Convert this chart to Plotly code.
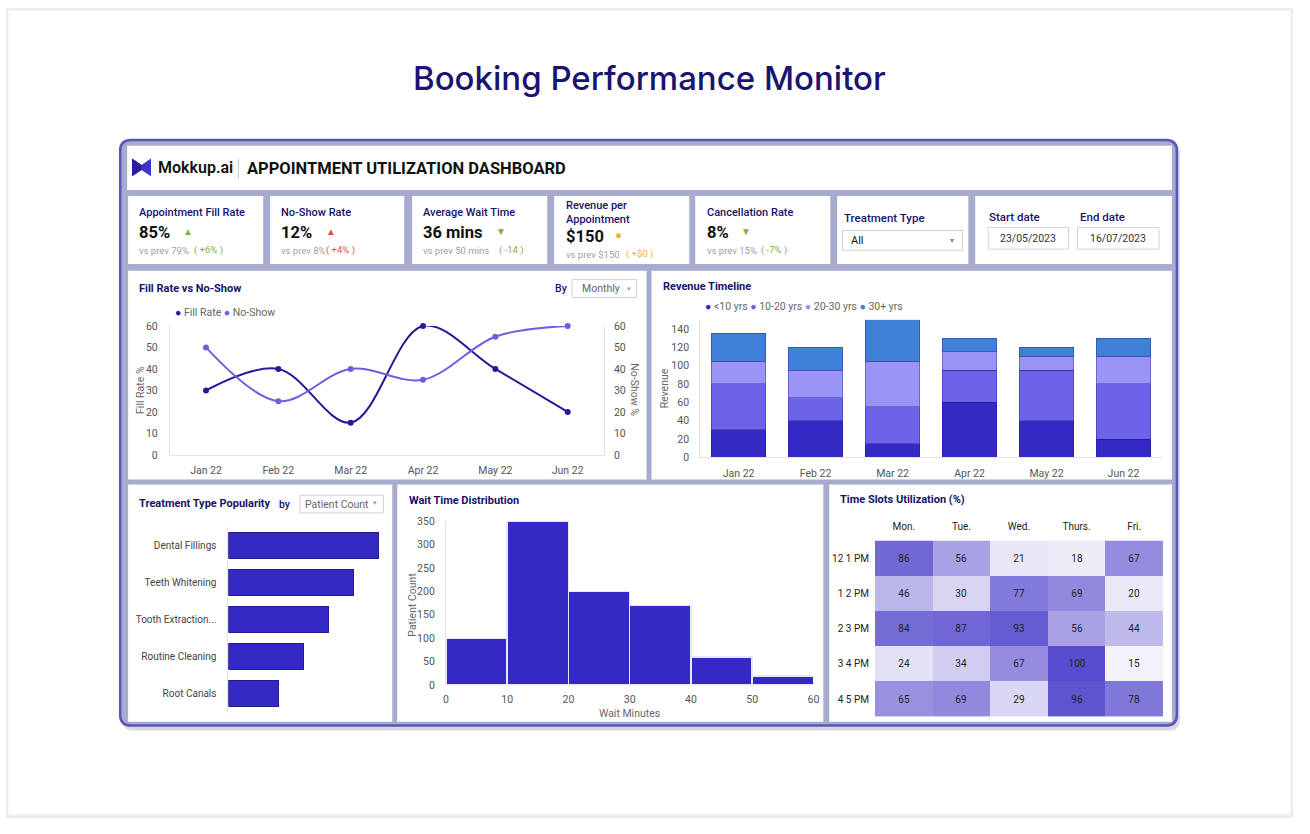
import plotly.graph_objects as go

W, H = 1310, 834
FONT = "Roboto"

# ---------------- data ----------------
months = ["Jan 22", "Feb 22", "Mar 22", "Apr 22", "May 22", "Jun 22"]
fill_rate = [30, 40, 15, 60, 40, 20]
no_show = [50, 25, 40, 35, 55, 60]

rev_groups = ["<10 yrs", "10-20 yrs", "20-30 yrs", "30+ yrs"]
rev_lt10 = [30, 40, 15, 60, 40, 20]
rev_10_20 = [50, 25, 40, 35, 55, 60]
rev_20_30 = [25, 30, 50, 20, 15, 30]
rev_30p = [30, 25, 45, 15, 10, 20]

treatments = ["Dental Fillings", "Teeth Whitening", "Tooth Extraction...", "Routine Cleaning", "Root Canals"]
treat_counts = [300, 250, 200, 150, 100]

wait_edges = [0, 10, 20, 30, 40, 50, 60]
wait_counts = [100, 350, 200, 170, 60, 20]

days = ["Mon.", "Tue.", "Wed.", "Thurs.", "Fri."]
slots = ["12 1 PM", "1 2 PM", "2 3 PM", "3 4 PM", "4 5 PM"]
util = [
    [86, 56, 21, 18, 67],
    [46, 30, 77, 69, 20],
    [84, 87, 93, 56, 44],
    [24, 34, 67, 100, 15],
    [65, 69, 29, 96, 78],
]

kpi_titles = ["Appointment Fill Rate", "No-Show Rate", "Average Wait Time", "Revenue per<br>Appointment", "Cancellation Rate"]
kpi_values = ["85%", "12%", "36 mins", "$150", "8%"]
kpi_prev = ["vs prev 79%", "vs prev 8%", "vs prev 50 mins", "vs prev $150", "vs prev 15%"]
kpi_delta = ["( +6% )", "( +4% )", "( -14 )", "( +$0 )", "( -7% )"]
kpi_status = ["up_good", "up_bad", "down_good", "flat", "down_good"]

treatment_filter = "All"
start_date = "23/05/2023"
end_date = "16/07/2023"

# ---------------- colours ----------------
NAVY = "#17136a"
C_FILL = "#241a96"
C_NOSHOW = "#6b5fe0"
REV_COLORS = ["#3429c4", "#6c63e9", "#9a94f6", "#3f80d9"]
BAR = "#3429c4"
GREEN = "#7cb342"
RED = "#e5533d"
ORANGE = "#f5b041"
GREY = "#a0a0a0"
FRAME_FILL = "#a7abcd"
FRAME_LINE = "#5a55bb"


def X(x):
    return x / W


def Y(y):
    return 1 - y / H


shapes = []
annotations = []


def rect(x0, y0, x1, y1, fill, line=None, lw=0):
    shapes.append(dict(type="rect", xref="paper", yref="paper", x0=X(x0), x1=X(x1), y0=Y(y1), y1=Y(y0),
                       fillcolor=fill, line=dict(color=line or fill, width=lw), layer="below"))


def rrect(x0, y0, x1, y1, r, fill, line=None, lw=0):
    p = (f"M{X(x0 + r)},{Y(y0)} L{X(x1 - r)},{Y(y0)} Q{X(x1)},{Y(y0)} {X(x1)},{Y(y0 + r)} "
         f"L{X(x1)},{Y(y1 - r)} Q{X(x1)},{Y(y1)} {X(x1 - r)},{Y(y1)} L{X(x0 + r)},{Y(y1)} "
         f"Q{X(x0)},{Y(y1)} {X(x0)},{Y(y1 - r)} L{X(x0)},{Y(y0 + r)} Q{X(x0)},{Y(y0)} {X(x0 + r)},{Y(y0)} Z")
    shapes.append(dict(type="path", xref="paper", yref="paper", path=p, fillcolor=fill,
                       line=dict(color=line or fill, width=lw), layer="below"))


def txt(x, y, s, size=11, color="#333", xa="left", ya="middle", family=FONT, angle=0, weight=None):
    f = dict(family=family, size=size, color=color)
    if weight:
        f["weight"] = weight
    annotations.append(dict(x=X(x), y=Y(y), xref="paper", yref="paper", text=s, showarrow=False,
                            xanchor=xa, yanchor=ya, font=f, textangle=angle, align="left"))


# ---------------- background page ----------------
rect(3, 2, 1299, 825, "#ececec")
rect(5, 4, 1297, 822, "#f5f5f5")
rect(6, 5, 1296, 820, "#ffffff")

txt(651, 73, "Booking Performance Monitor", size=33, color="#1a1470", xa="center", family="Inter", weight=500)

# dashboard frame
rrect(120, 139, 1185, 736, 11, "#d9d9e2")
rrect(118, 136, 1182, 731, 11, FRAME_FILL, FRAME_LINE, 2.5)

# panels
panels = [
    (125, 142, 1177, 187),
    (126, 193, 262, 262), (269, 193, 404, 262), (412, 193, 548, 262), (555, 193, 691, 262),
    (697, 193, 833, 262), (840, 193, 972, 262), (979, 193, 1177, 262),
    (126, 269, 648, 481), (653, 269, 1177, 481),
    (126, 486, 392, 727), (397, 486, 826, 727), (832, 486, 1177, 727),
]
for p in panels:
    rect(*p, "#ffffff")

# header
shapes.append(dict(type="path", xref="paper", yref="paper",
                   path=f"M{X(130)},{Y(155)} L{X(139.5)},{Y(161.5)} L{X(149)},{Y(155)} L{X(149)},{Y(173)} "
                        f"L{X(139.5)},{Y(166.5)} L{X(130)},{Y(173)} Z",
                   fillcolor="#3b30d4", line=dict(width=0), layer="below"))
shapes.append(dict(type="path", xref="paper", yref="paper",
                   path=f"M{X(130)},{Y(155)} L{X(139.5)},{Y(161.5)} L{X(139.5)},{Y(166.5)} L{X(130)},{Y(173)} Z",
                   fillcolor="#2a1f9c", line=dict(width=0), layer="below"))
txt(154, 164.5, "Mokkup.ai", size=16, color="#111111", weight=600)
rect(236.5, 155, 237.5, 175, "#c4c4c4")
txt(244, 165, "<b>APPOINTMENT UTILIZATION DASHBOARD</b>", size=16.5, color="#111111")

# ---------------- KPI cards ----------------
kpi_x = [135, 278, 421, 565, 707]
mark_x = [179, 323, 494, 614, 741]
delta_x = [190, 323, 497, 625, 761]
for i in range(5):
    x = kpi_x[i]
    two_line = "<br>" in kpi_titles[i]
    ty, vy, sy = (210, 230.5, 248) if not two_line else (210, 234, 252)
    txt(x, ty, kpi_titles[i], size=11, color=NAVY, weight=500)
    txt(x, vy, f"<b>{kpi_values[i]}</b>", size=16.5, color="#111111")
    st = kpi_status[i]
    if st == "up_good":
        m, c = "▲", GREEN
    elif st == "up_bad":
        m, c = "▲", RED
    elif st == "down_good":
        m, c = "▼", GREEN
    else:
        m, c = "●", ORANGE
    txt(mark_x[i], vy - 1, m, size=10 if m != "●" else 12, color=c)
    txt(x, sy, kpi_prev[i], size=9.5, color=GREY)
    txt(delta_x[i], sy, kpi_delta[i], size=9.5, color=c)

# treatment filter
txt(845, 215, "Treatment Type", size=11.5, color=NAVY, weight=500)
rect(845, 228, 966, 248, "#ffffff", "#cfcfcf", 1)
txt(852, 238, treatment_filter, size=11, color="#111111")
txt(956, 238, "▾", size=8, color="#888888", xa="center")

# dates
txt(991, 214, "Start date", size=11.5, color=NAVY, weight=500)
txt(1082, 214, "End date", size=11.5, color=NAVY, weight=500)
rect(992, 225, 1073, 247, "#ffffff", "#d4d4d4", 1)
rect(1082, 225, 1164, 247, "#ffffff", "#d4d4d4", 1)
txt(1032.5, 236, start_date, size=10.5, color="#333333", xa="center")
txt(1123, 236, end_date, size=10.5, color="#333333", xa="center")

# ---------------- panel headers ----------------
txt(135, 287, "<b>Fill Rate vs No-Show</b>", size=11, color=NAVY)
txt(554, 287, "By", size=10.5, color=NAVY, weight=500)
rect(573, 278, 638, 296, "#ffffff", "#cfcfcf", 1)
txt(602, 287, "Monthly", size=10.5, color="#666666", xa="center")
txt(630, 287, "▾", size=7, color="#999999", xa="center")
txt(171, 311, f"<span style='color:{C_FILL}'>●</span> Fill Rate <span style='color:{C_NOSHOW}'>●</span> No-Show",
    size=10.5, color="#666666")
txt(139, 390, "Fill Rate %", size=10.5, color="#666666", xa="center", angle=-90)
txt(635, 390, "No-Show %", size=10.5, color="#666666", xa="center", angle=90)

txt(663, 285, "<b>Revenue Timeline</b>", size=11, color=NAVY)
leg = " ".join(f"<span style='color:{c}'>●</span> {g}" for g, c in zip(rev_groups, REV_COLORS))
txt(705, 305, leg, size=10.5, color="#666666")
txt(667, 388, "Revenue", size=10.5, color="#666666", xa="center", angle=-90)

txt(135, 505, "<b>Treatment Type Popularity</b>", size=11, color=NAVY)
txt(276, 506, "by", size=10.5, color=NAVY, weight=500)
rect(299, 497, 383, 515, "#ffffff", "#cfcfcf", 1)
txt(336, 506, "Patient Count", size=10.5, color="#666666", xa="center")
txt(375, 505, "▾", size=7, color="#999999", xa="center")

txt(407, 502, "<b>Wait Time Distribution</b>", size=11, color=NAVY)
txt(412, 608, "Patient Count", size=10.5, color="#666666", xa="center", angle=-90)
txt(631, 719, "Wait Minutes", size=10.5, color="#666666", xa="center")

txt(841, 501, "<b>Time Slots Utilization (%)</b>", size=11, color=NAVY)

# ---------------- traces ----------------
fig = go.Figure()

fig.add_trace(go.Scatter(x=months, y=fill_rate, mode="lines+markers", name="Fill Rate",
                         line=dict(color=C_FILL, width=2, shape="spline", smoothing=1.0),
                         marker=dict(size=6, color=C_FILL), xaxis="x", yaxis="y", cliponaxis=False))
fig.add_trace(go.Scatter(x=months, y=no_show, mode="lines+markers", name="No-Show",
                         line=dict(color=C_NOSHOW, width=2, shape="spline", smoothing=1.0),
                         marker=dict(size=6, color=C_NOSHOW), xaxis="x", yaxis="y2", cliponaxis=False))

for vals, g, c in zip([rev_lt10, rev_10_20, rev_20_30, rev_30p], rev_groups, REV_COLORS):
    fig.add_trace(go.Bar(x=months, y=vals, name=g, marker=dict(color=c, line=dict(color="rgba(30,20,120,0.35)", width=1)),
                         xaxis="x2", yaxis="y3"))

fig.add_trace(go.Bar(x=treat_counts, y=treatments, orientation="h", marker=dict(color=BAR, line=dict(color="#241a8c", width=1)),
                     xaxis="x3", yaxis="y4"))

mids = [(a + b) / 2 for a, b in zip(wait_edges[:-1], wait_edges[1:])]
widths = [b - a for a, b in zip(wait_edges[:-1], wait_edges[1:])]
fig.add_trace(go.Bar(x=mids, y=wait_counts, width=widths, marker=dict(color=BAR, line=dict(color="#e8e6fb", width=1.5)),
                     xaxis="x4", yaxis="y5"))

fig.add_trace(go.Heatmap(z=util, x=days, y=slots, colorscale=[[0, "#f3f2fa"], [1, "#584dce"]], zmin=15, zmax=100,
                         showscale=False, texttemplate="%{z}", textfont=dict(size=10, color="#222222"),
                         xaxis="x5", yaxis="y6", xgap=0, ygap=0))

tick = dict(family=FONT, size=10.5, color="#555555")
LINE = "#e3e3e3"

fig.update_layout(
    width=W, height=H, margin=dict(l=0, r=0, t=0, b=0),
    paper_bgcolor="#ffffff", plot_bgcolor="rgba(0,0,0,0)",
    showlegend=False, barmode="stack", bargap=0.29,
    font=dict(family=FONT),
    shapes=shapes, annotations=annotations,
    xaxis=dict(domain=[X(168), X(605)], anchor="y", type="category", categoryorder="array", categoryarray=months,
               range=[-0.5, 5.5], showline=True, linecolor=LINE, showgrid=False, zeroline=False,
               tickfont=tick, ticklabelstandoff=6, fixedrange=True),
    yaxis=dict(domain=[Y(456), Y(325)], anchor="x", range=[0, 60], dtick=10, showline=True, linecolor=LINE,
               showgrid=False, zeroline=False, tickfont=tick, ticklabelstandoff=9),
    yaxis2=dict(overlaying="y", side="right", anchor="x", range=[0, 60], dtick=10, showline=True, linecolor=LINE,
                showgrid=False, zeroline=False, tickfont=tick, ticklabelstandoff=7),
    xaxis2=dict(domain=[X(702), X(1167)], anchor="y3", type="category", categoryorder="array", categoryarray=months,
                range=[-0.5, 5.5], showline=True, linecolor=LINE, showgrid=False, zeroline=False,
                tickfont=tick, ticklabelstandoff=6),
    yaxis3=dict(domain=[Y(458.5), Y(318.7)], anchor="x2", range=[0, 150], tickvals=[0, 20, 40, 60, 80, 100, 120, 140],
                showline=True, linecolor=LINE, showgrid=False, zeroline=False, tickfont=tick, ticklabelstandoff=8),
    xaxis3=dict(domain=[X(227), X(385)], anchor="y4", range=[0, 314], visible=False),
    yaxis4=dict(domain=[Y(717), Y(529)], anchor="x3", type="category", categoryorder="array", categoryarray=treatments,
                autorange="reversed", showline=True, linecolor=LINE, showgrid=False, zeroline=False,
                tickfont=dict(family=FONT, size=10, color="#444444"), ticklabelstandoff=9),
    xaxis4=dict(domain=[X(446), X(816)], anchor="y5", range=[0, 60], dtick=10, showline=False, showgrid=False,
                zeroline=False, tickfont=tick, ticklabelstandoff=6),
    yaxis5=dict(domain=[Y(690), Y(523)], anchor="x4", range=[0, 350], dtick=50, showline=True, linecolor=LINE,
                showgrid=False, zeroline=False, tickfont=tick, ticklabelstandoff=8),
    xaxis5=dict(domain=[X(878), X(1168)], anchor="y6", side="top", showgrid=False, zeroline=False,
                tickfont=dict(family=FONT, size=10, color="#222222"), ticklabelstandoff=8),
    yaxis6=dict(domain=[Y(722), Y(543)], anchor="x5", autorange="reversed", showgrid=False, zeroline=False,
                tickfont=dict(family=FONT, size=10, color="#222222"), ticklabelstandoff=5),
)

fig.write_html("out.html")
